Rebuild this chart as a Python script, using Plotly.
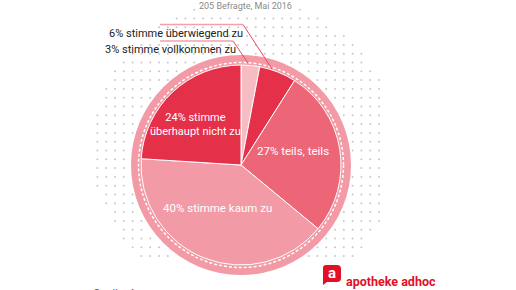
import numpy as np
import plotly.graph_objects as go

# ---------------- data ----------------
categories = ["stimme vollkommen zu", "stimme überwiegend zu", "teils, teils",
              "stimme kaum zu", "stimme überhaupt nicht zu"]
values = [3, 6, 27, 40, 24]
colors = ["#f6bcc4", "#e5304a", "#ec6677", "#f29ba6", "#e5304a"]
subtitle = "205 Befragte, Mai 2016"
source = "Quelle: Aposcan"
brand = "apotheke adhoc"

W, H = 516, 290
CX, CY, R = 241, 165, 100
FONT = "Roboto, sans-serif"

fig = go.Figure()

# dotted background grid (decoration)
gx = 379 - 8.8 * np.arange(34)
gy = 9.7 + 8.8 * np.arange(29)
XX, YY = np.meshgrid(gx, gy)
XX, YY = XX.ravel(), YY.ravel()
mask = ((XX - 245) ** 2 + (YY - 150) ** 2 <= 152 ** 2) & \
       ((XX - CX) ** 2 + (YY - CY) ** 2 > 112 ** 2)
fig.add_trace(go.Scatter(x=XX[mask], y=YY[mask], mode="markers",
                         marker=dict(size=2, color="#c8c8c8"),
                         hoverinfo="skip", showlegend=False))

# pie
fig.add_trace(go.Pie(
    values=values, labels=categories, sort=False, direction="clockwise",
    rotation=0, marker=dict(colors=colors, line=dict(color="white", width=1)),
    textinfo="none", hoverinfo="label+percent", showlegend=False,
    domain=dict(x=[(CX - R) / W, (CX + R) / W],
                y=[1 - (CY + R) / H, 1 - (CY - R) / H]),
))

shapes = [
    dict(type="circle", xref="x", yref="y", x0=CX - 110, x1=CX + 110,
         y0=CY - 110, y1=CY + 110, fillcolor="#f29ba6", line=dict(width=0),
         layer="below"),
    dict(type="circle", xref="x", yref="y", x0=CX - 102.5, x1=CX + 102.5,
         y0=CY - 102.5, y1=CY + 102.5, fillcolor="rgba(0,0,0,0)",
         line=dict(color="white", width=1.5, dash="3px,2px"), layer="below"),
    # leader lines
    dict(type="line", xref="x", yref="y", x0=160, x1=243, y0=24.5, y1=24.5,
         line=dict(color="#f3a0aa", width=1.5), layer="above"),
    dict(type="line", xref="x", yref="y", x0=243, x1=272, y0=24.5, y1=69,
         line=dict(color="#e8485c", width=1), layer="above"),
    dict(type="line", xref="x", yref="y", x0=160, x1=233, y0=41, y1=41,
         line=dict(color="#f3a0aa", width=1.5), layer="above"),
    dict(type="line", xref="x", yref="y", x0=233, x1=248, y0=41, y1=63,
         line=dict(color="#e8485c", width=1), layer="above"),
    # logo blob
    dict(type="path", xref="x", yref="y",
         path="M 326 265 L 337 265 Q 341 265 341 269 L 341 278 Q 341 282 337 282 "
              "L 327 282 L 323 285 L 323 268 Q 323 265 326 265 Z",
         fillcolor="#e30f25", line=dict(width=0), layer="above"),
]

ann = []
def lab(i):
    return f"{values[i]}% {categories[i]}"

ann.append(dict(x=176, y=33, text=lab(1), font=dict(size=11, color="#222")))
ann.append(dict(x=170, y=49, text=lab(0), font=dict(size=11, color="#222")))
ann.append(dict(x=195, y=124, text=f"{values[4]}% stimme<br>überhaupt nicht zu",
                font=dict(size=11, color="white")))
ann.append(dict(x=293, y=151, text=lab(2), font=dict(size=11.5, color="white")))
ann.append(dict(x=217, y=208, text=lab(3), font=dict(size=11.5, color="white")))
ann.append(dict(x=245, y=5.5, text=subtitle, bgcolor="white", borderpad=0,
                font=dict(size=9, color="#8a8a8a")))
ann.append(dict(x=91, y=285, text=source, xanchor="left", yanchor="top",
                font=dict(size=11, color="#666")))
ann.append(dict(x=332, y=273, text="<b>a</b>", font=dict(size=15, color="white")))
ann.append(dict(x=344, y=281, text=f"<b>{brand}</b>", xanchor="left",
                font=dict(size=12.5, color="#e30f25")))

for a in ann:
    a.setdefault("xanchor", "center")
    a.setdefault("yanchor", "middle")
    a["xref"] = "x"
    a["yref"] = "y"
    a["showarrow"] = False
    a["font"].setdefault("family", FONT)

fig.update_layout(
    width=W, height=H, margin=dict(l=0, r=0, t=0, b=0),
    paper_bgcolor="white", plot_bgcolor="white",
    xaxis=dict(range=[0, W], visible=False, fixedrange=True),
    yaxis=dict(range=[H, 0], visible=False, fixedrange=True),
    shapes=shapes, annotations=ann, showlegend=False,
)

fig.write_html("out.html")
